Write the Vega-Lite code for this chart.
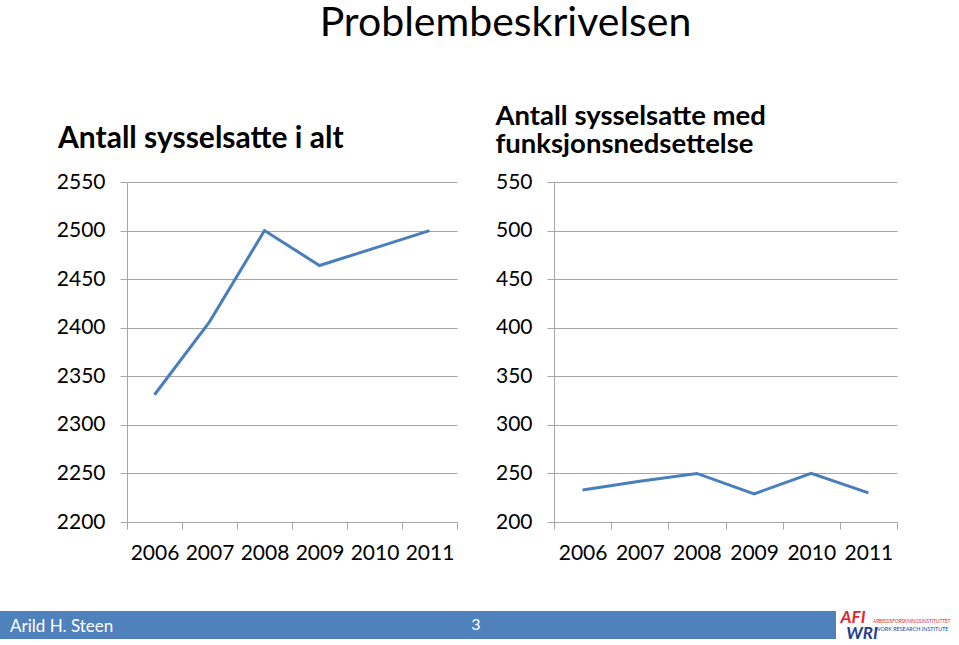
{
  "$schema": "https://vega.github.io/schema/vega-lite/v6.json",
  "background": "white",
  "padding": {"left": 0, "top": 2, "right": 0, "bottom": 0},
  "title": {"text": "Problembeskrivelsen", "fontSize": 41, "fontWeight": "normal", "color": "black", "anchor": "middle", "dx": 26, "offset": 26, "baseline": "alphabetic"},
  "datasets": {
    "emp": [
      {"year": "2006", "total": 2331, "disabled": 233},
      {"year": "2007", "total": 2406, "disabled": 242},
      {"year": "2008", "total": 2500, "disabled": 250},
      {"year": "2009", "total": 2464, "disabled": 229},
      {"year": "2010", "total": 2482, "disabled": 250},
      {"year": "2011", "total": 2500, "disabled": 230}
    ]
  },
  "spacing": 46,
  "vconcat": [
    {
      "hconcat": [
        {
          "data": {"name": "emp"},
          "width": 330,
          "height": 340,
          "title": {"text": "Antall sysselsatte i alt", "anchor": "start", "frame": "group", "dx": -69, "fontSize": 30, "fontWeight": "bold", "baseline": "alphabetic", "offset": -7},
          "mark": {"type": "line", "color": "#4a7ebb", "strokeWidth": 3},
          "encoding": {
            "x": {"field": "year", "type": "ordinal", "scale": {"type": "band", "paddingInner": 0, "paddingOuter": 0},
                  "axis": {"tickBand": "extent", "grid": false, "labelAngle": 0, "labelPadding": 13}},
            "y": {"field": "total", "type": "quantitative", "scale": {"domain": [2200, 2550], "nice": false, "zero": false},
                  "axis": {"values": [2200, 2250, 2300, 2350, 2400, 2450, 2500, 2550], "format": "d", "labelPadding": 15, "minExtent": 127}}
          }
        },
        {
          "data": {"name": "emp"},
          "width": 343,
          "height": 340,
          "title": {"text": ["Antall sysselsatte med", "funksjonsnedsettelse"], "anchor": "start", "fontSize": 27.5, "fontWeight": "bold", "baseline": "alphabetic", "lineHeight": 28, "offset": -9},
          "mark": {"type": "line", "color": "#4a7ebb", "strokeWidth": 3},
          "encoding": {
            "x": {"field": "year", "type": "ordinal", "scale": {"type": "band", "paddingInner": 0, "paddingOuter": 0},
                  "axis": {"tickBand": "extent", "grid": false, "labelAngle": 0, "labelPadding": 13}},
            "y": {"field": "disabled", "type": "quantitative", "scale": {"domain": [200, 550], "nice": false, "zero": false},
                  "axis": {"values": [200, 250, 300, 350, 400, 450, 500, 550], "format": "d", "labelPadding": 15}}
          }
        }
      ],
      "spacing": 97,
      "bounds": "flush"
    },
    {
      "hconcat": [
        {
          "width": 709,
          "height": 28,
          "data": {"values": [{"author": "Arild H. Steen", "page": "3"}]},
          "layer": [
            {
              "mark": {"type": "rect", "color": "#4f81bd"},
              "encoding": {
                "x": {"field": "author", "type": "nominal", "scale": {"type": "band", "range": [-127, 709], "paddingInner": 0, "paddingOuter": 0}, "axis": null}
              }
            },
            {
              "mark": {"type": "text", "align": "left", "baseline": "middle", "dx": 10, "dy": 2, "color": "white", "fontSize": 17},
              "encoding": {
                "x": {"field": "author", "type": "nominal", "bandPosition": 0, "axis": null},
                "text": {"field": "author"}
              }
            },
            {
              "mark": {"type": "text", "align": "center", "baseline": "middle", "dx": 58, "dy": 0, "color": "white", "fontSize": 16},
              "encoding": {
                "x": {"field": "author", "type": "nominal", "bandPosition": 0.5, "axis": null},
                "text": {"field": "page"}
              }
            }
          ]
        },
        {
          "width": 123,
          "height": 28,
          "view": {"stroke": null},
          "layer": [
            {
              "data": {"values": [{"t": "AFI"}]},
              "mark": {"type": "text", "align": "center", "baseline": "alphabetic", "dx": -44.5, "dy": -2, "color": "#e2242b", "fontSize": 17, "fontWeight": "bold", "fontStyle": "italic"},
              "encoding": {"text": {"field": "t"}}
            },
            {
              "data": {"values": [{"t": "WRI"}]},
              "mark": {"type": "text", "align": "center", "baseline": "alphabetic", "dx": -35.5, "dy": 14, "color": "#1f3d8f", "fontSize": 17, "fontWeight": "bold", "fontStyle": "italic"},
              "encoding": {"text": {"field": "t"}}
            },
            {
              "data": {"values": [{"t": "ARBEIDSFORSKNINGSINSTITUTTET"}]},
              "mark": {"type": "text", "align": "left", "baseline": "alphabetic", "dx": -24.5, "dy": -2, "color": "#e2242b", "fontSize": 4.7},
              "encoding": {"text": {"field": "t"}}
            },
            {
              "data": {"values": [{"t": "WORK RESEARCH INSTITUTE"}]},
              "mark": {"type": "text", "align": "left", "baseline": "alphabetic", "dx": -22.5, "dy": 6, "color": "#1f3d8f", "fontSize": 5.4},
              "encoding": {"text": {"field": "t"}}
            }
          ]
        }
      ],
      "spacing": 0
    }
  ],
  "config": {
    "font": "Lato",
    "view": {"stroke": null},
    "title": {"font": "Lato", "color": "black"},
    "axis": {"labelFont": "Lato", "labelFontSize": 21, "labelColor": "black", "domainColor": "#a6a6a6", "tickColor": "#a6a6a6", "gridColor": "#a6a6a6", "tickSize": 7, "title": null}
  }
}
